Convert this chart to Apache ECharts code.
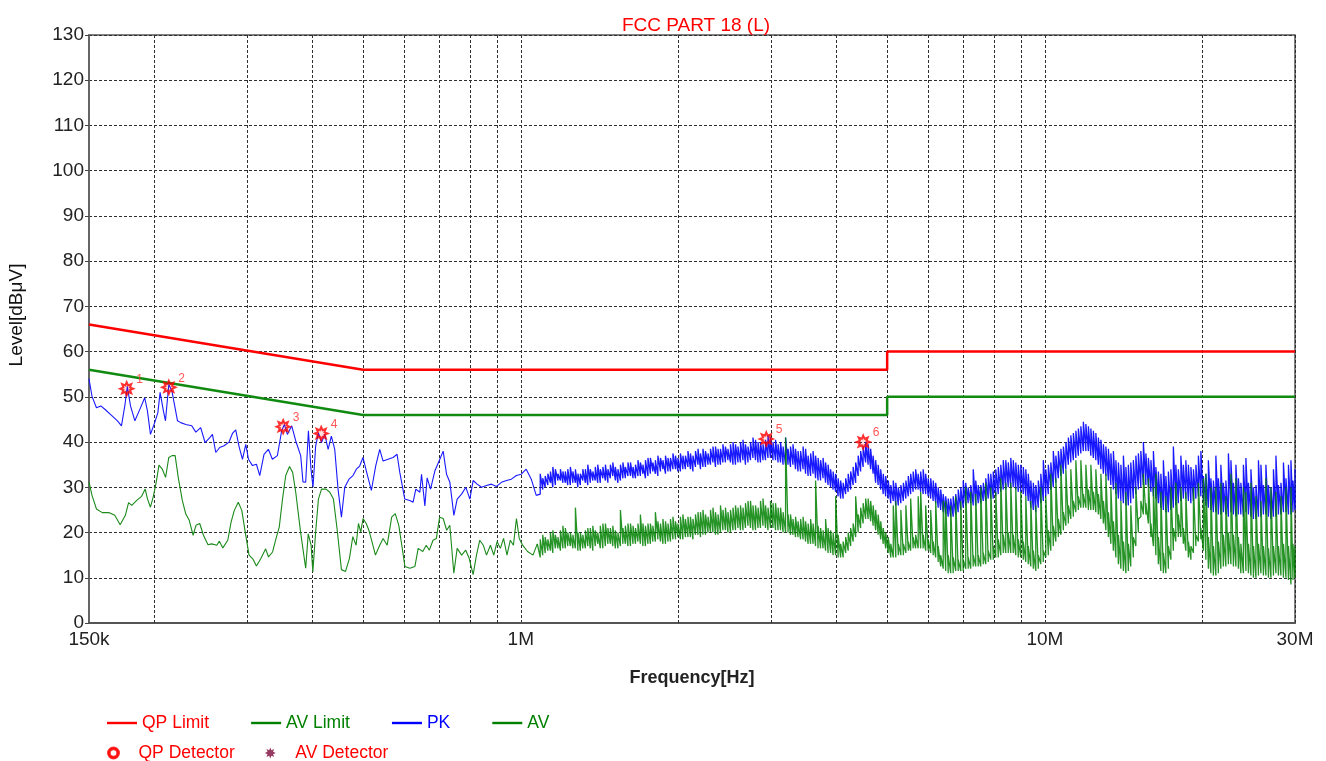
<!DOCTYPE html>
<html><head><meta charset="utf-8">
<script src="https://cdn.jsdelivr.net/npm/echarts@6/dist/echarts.min.js"></script>
<style>html,body{margin:0;padding:0;background:#fff}#c{width:1326px;height:761px}</style>
</head><body><div id="c"></div>
<script>
// ---------- data (frequencies in kHz, levels in dBµV) ----------
const LIMIT_FREQ_KHZ = [150, 500, 5000, 5000, 30000];
const QP_LIMIT = [66, 56, 56, 60, 60];
const AV_LIMIT = [56, 46, 46, 50, 50];

// low band sweep (150 kHz - ~1.07 MHz), single trace points
const PK_FREQ_LOW = [150,152,155,158,161,166,170,173,175.7,177.5,180,183.5,187,191.6,193.9,196.5,200.2,203,205,208,209.9,213,216,218,221.3,224.5,229.5,235.6,239.8,245,249.8,255,258,261.8,266.4,271.5,277.5,281.7,285.8,290,294.4,298.7,302.3,307.6,313,317.6,323.6,329.9,335.7,343.2,349.7,353.9,358.6,365.5,371.9,380.2,384,388.6,393.3,397.8,401.3,406,411,416.6,422.6,428.9,435,441.5,448,454.7,461.4,470,478.4,485.5,492.6,499.9,507.3,518.6,528.5,538,546,558,570.5,580.6,587.6,600.6,614,623,630.5,641.7,646.5,656,662.6,672.6,685.4,700.6,710.9,721.6,732.2,745.2,756,770.8,785.5,799.5,811,825.4,841.5,860,879,898.6,918.4,939,959.3,980.7,1002,1024,1047,1070];
const PK_LOW = [54.0,50.1,47.6,48.0,47.2,45.8,44.7,43.6,48.3,52.3,48.0,44.7,46.9,49.8,46.9,41.7,44.3,46.5,51.0,46.9,44.7,52.8,51.2,48.7,44.7,44.3,43.9,43.6,42.2,43.2,39.9,41.0,41.7,37.7,38.8,39.2,40.0,41.9,42.7,39.0,36.2,39.5,36.2,34.8,35.1,32.6,37.3,38.4,36.2,37.0,42.5,43.9,41.7,43.6,40.3,37.0,31.2,31.1,42.5,34.0,30.0,39.1,42.0,39.9,41.7,38.4,41.3,38.4,29.6,23.4,30.0,31.8,32.6,34.0,34.7,36.6,33.6,29.3,34.7,38.4,35.8,36.2,36.6,37.3,33.3,27.4,27.1,26.7,29.6,28.9,32.9,25.9,32.1,29.6,33.6,36.2,38.0,32.9,31.1,23.8,27.4,28.5,30.0,27.4,31.5,30.7,30.0,30.4,30.7,30.2,31.1,31.5,31.8,32.6,32.9,34.0,31.8,28.2];

const AV_FREQ_LOW = [150,152,155,159,164,168,172,176,178.5,181,185,189,192,194,196.5,199,201.5,204,207,210,213,216,219,222,226,229.5,233,237,240,244,248,253,257,263,266,270,276,280,284,289,293.5,298,303,308,313,319,326,330,336,341,346,351,356,362,367,372,380,388.6,393,398,401,406,411,416.6,425,432,439,446,454.7,463,471,478,485,490,495,500,507,513,520,528,538,546,556,567,576,585,594,601,614,628,637,650,660,669,680,690,700,711,722,732,745,756,771,785,797,811,823,835,848,860,875,888,901,914,927,941,955,968,981,993,1008,1030,1055,1075];
const AV_LOW = [31.2,28.2,25.2,24.4,24.4,23.8,21.7,23.8,26.6,26.0,27.1,28.0,29.6,27.4,25.6,28.0,31.1,34.9,34.0,32.2,36.6,37.0,37.0,32.2,27.1,24.1,22.7,19.4,21.6,22.0,19.4,17.3,17.5,17.2,18.1,16.6,18.3,22.3,24.9,26.7,24.9,20.1,15.0,14.2,12.6,14.2,16.4,14.6,15.7,18.6,21.2,27.4,32.6,34.6,33.3,28.9,20.1,12.1,19.7,17.2,11.3,20.1,27.4,29.6,29.6,28.9,27.4,20.9,11.8,11.4,14.3,19.1,17.2,22.0,20.1,23.1,22.0,20.5,18.0,15.0,17.2,18.7,17.2,23.4,24.2,21.6,16.5,12.5,12.1,12.5,16.5,15.8,17.2,16.1,18.3,18.7,23.4,23.1,20.5,21.6,11.0,16.5,15.0,16.1,14.3,10.7,15.0,18.3,17.2,15.0,17.2,15.0,18.0,16.5,18.7,15.0,18.3,17.2,23.1,18.7,17.2,15.8,15.0,17.5];

// dense sweep (1.09 MHz - 30 MHz): min / max envelope per frequency bin
const DENSE_FREQ = [
1089,1101,1113,1126,1139,1151,1164,1177,1190,1203,1216,1229,1243,1257,1271,1285,1299,1313,1328,1342,
1357,1372,1387,1402,1418,1434,1450,1466,1482,1498,1515,1532,1549,1566,1583,1601,1619,1637,1655,1673,
1691,1710,1729,1748,1767,1786,1806,1826,1847,1867,1888,1909,1930,1951,1973,1994,2016,2038,2061,2084,
2107,2130,2154,2178,2202,2226,2251,2276,2301,2326,2352,2378,2404,2430,2457,2484,2512,2540,2568,2596,
2625,2654,2683,2713,2743,2773,2804,2835,2866,2898,2930,2962,2995,3028,3062,3096,3130,3165,3200,3235,
3270,3306,3343,3380,3418,3456,3494,3533,3572,3611,3651,3691,3732,3773,3815,3857,3900,3943,3987,4031,
4076,4121,4167,4213,4259,4306,4354,4402,4450,4499,4549,4599,4650,4701,4753,4806,4860,4914,4968,5024,
5080,5136,5193,5251,5310,5369,5428,5486,5544,5605,5667,5730,5793,5857,5922,5988,6054,6121,6188,6257,
6326,6396,6466,6538,6610,6683,6757,6832,6908,6984,7061,7139,7218,7298,7378,7460,7543,7627,7711,7796,
7882,7969,8057,8146,8236,8327,8419,8512,8606,8701,8797,8895,8993,9093,9193,9295,9398,9502,9606,9713,
9820,9929,10038,10149,10261,10375,10490,10607,10725,10844,10963,11084,11205,11330,11455,11582,11709,11839,11970,12103,
12236,12371,12507,12646,12786,12928,13070,13215,13360,13508,13657,13809,13961,14116,14271,14425,14580,14745,14910,15075,
15240,15410,15580,15755,15930,16105,16280,16460,16640,16825,17010,17200,17390,17580,17770,17970,18170,18370,18570,18780,
18990,19200,19410,19625,19840,20060,20280,20505,20730,20960,21190,21425,21660,21900,22140,22390,22640,22890,23140,23395,
23650,23915,24180,24450,24720,24995,25270,25550,25830,26115,26400,26695,26990,27290,27590,27895,28200,28515,28830,29150,
29470,29735,30000];
const PK_MAX = [
33,32,32.5,33,33.5,34.5,34,33,34,33.5,33.5,34,34.5,33.5,34,33,33,34,34,35,
34,33.5,34.5,35,34,34.5,35,34,35,35.5,34.5,34,35,35.5,34.5,35.5,35.5,34.5,35,36,
35.5,35,36,36.5,36.5,35.5,36,37,36.5,36,37,36.5,36.5,37.5,37,36.5,37.5,37,37,38,
37.5,37,38,38.5,37.5,38.5,38,37.5,38.5,39,39,38.5,38.5,39.5,39,38.5,39.5,40,39.5,39,
40,40.5,39.5,39,40,41,40.5,40,40,39.5,40.5,41.5,41,40,40.5,39.5,40,39,41,38.5,
39,39.5,38.5,38,38,39,38.5,37,37.5,38,37,36.5,36,36.5,35.5,35,34,33.5,33,32,
31.5,31,32,33,33.5,34.5,35.5,37,38,39,40,39.5,38.5,37,36,35,34,33,32.5,31.5,
30.5,31.5,31,30,30.5,31,31.5,32.5,33,33.5,34,33,33.5,34,33,32,32,31.5,31,30,
29.5,28.5,28,27.5,27.5,28,28.5,29.5,30,31.5,31,30,30.5,34,31.5,30.5,30.5,31,32,33,
33,33.5,34,34.5,35,36,36,35.5,36.5,36,35.5,35,35,34.5,34,33,31.5,31,30.5,31.5,
33,36,34,35,35.5,38,37,38,38.5,39,40,41,41.5,42,42.5,43,43.5,44.5,44,43.5,
43,42.5,42,41,40.5,39.5,39,38.5,37.5,38,36,35.5,35,37,34.5,35,35.5,36,37,37.5,
38,40,37.5,36.5,36,38,34.5,33.5,33,36,32.5,33.5,34,39,35,34,37,35,36,35,
34.5,34,35,37,38,32.5,33,36,32,31.5,37,32,35,31,31.5,37.5,36,31,35,32,
31,35,36.5,31,34,30,30.5,36,35,30.5,35,30.5,30,34,37,30.5,31,35.5,32,35,
36,31.5,34];
const PK_MIN = [
28.5,29.5,30,30.5,31,30,30.5,31.5,31.5,31,31,30.5,30.5,31,31,30,30.5,31.5,31,30.5,
31,31.5,31.5,31,31,32,31.5,31,32,32.5,31.5,31,31.5,32,32,32.5,32.5,32,32,32.5,
32.5,33,32,32.5,33,33.5,33,32.5,33.5,34,33,33.5,33.5,34,34,33.5,33.5,34,34,34.5,
34,33.5,34.5,35,34,34.5,34.5,35,35,35.5,34.5,35,35,35.5,35.5,36,35.5,35,35,35.5,
35.5,36,35,35.5,36,36.5,36,35.5,35.5,36,36,36.5,36.5,36,36,35.5,35.5,35,35,35,
34.5,35,34,33.5,33.5,34,33,32.5,32.5,33,32,31.5,31.5,32,31,30.5,30,29.5,29,28,
27.5,27.5,28.5,29,29.5,30.5,31,32.5,33.5,34.5,35.5,35,34,33,31,30.5,29.5,28.5,28,27.5,
26.5,27,26,26,26.5,27,27.5,28,28.5,29,29.5,29.5,29,28.5,28.5,28,27.5,27,26.5,25.5,
25,24.5,24,23.5,23.5,23.5,24,24.5,25,25.5,26,26.5,26.5,26,26,26.5,26.5,27,27,27.5,
27.5,27.5,28,28.5,29,29.5,29.5,30,30,30,29.5,29,29,28.5,28,27,25.5,25,24.5,25.5,
26.5,27,28,28.5,29.5,30,31,32,32.5,33,34,35,35.5,36,36.5,37,37.5,38,38,38,
37,36.5,36,35,34,33,32.5,31.5,30.5,29.5,28.5,27.5,27,26.5,26,26,26.5,27.5,28.5,29.5,
30,30.5,30.5,30,29,28,27.5,26.5,25.5,25,24.5,24.5,25,25.5,26,26.5,27,27.5,27.5,27,
26.5,27,27.5,28,28,27,26,25.5,25,24.5,24.5,24,24,24.5,24,23.5,24.5,24,23.5,24,
24,23.5,24.5,24,23.5,23,23,23.5,23.5,24,24,23.5,23,23.5,23.5,24,24,24.5,24.5,24,
24,24.5,25];
const AV_MAX = [
18.5,19.5,19,18.5,20,20.5,19.5,19,20.5,21.5,21,20,20,19.5,25.5,20,20,19.5,20.5,21,
21,21.5,20.5,20,21.5,22,22,21,21,21.5,20.5,20,25,21,21.5,22,22,21.5,21,22,
24,22,21.5,22,22,21.5,24.5,22.5,22,23,22.5,22,23,23.5,22.5,22,23.5,24,23,23.5,
23.5,23,24,24.5,24.5,25,24,23.5,25,25.5,24.5,24,26,25,25.5,24.5,25,25.5,26,25.5,
26,25.5,26.5,27,27,26,26,25.5,27,27.5,26,25.5,27,26.5,26.5,25.5,25.5,24.5,41,24,
24,23,23.5,22.5,23,23.5,22.5,22,23,22,31.5,21.5,21,20.5,23,21,20.5,20,28,19.5,
17.5,18,19,20,21,22,28,24,25.5,26.5,27.5,27.5,27,26,25,24,22.5,21,20,19,
17.5,26,27,17.5,25,17.5,26,18,27.5,19,19.5,28,29,19.5,26,18.5,25,18,27,17,
15,27,27,15,26,14.5,28,14,27,14,30,14.5,29,15,28.5,15,30,15.5,31,16,
30,17,29,18.5,32,19.5,31,20,31,19.5,30,18.5,29,18,28,17,27,16,26,15,
30,16,28,20.5,33,21.5,32,23,35,24.5,34,26,34,27,36,28,36,28.5,35,29.5,
35,29,34,28.5,33,27,33,24.5,30,22.5,31,19.5,27,18,29,17.5,26,19,30,23,
27,33,26.5,32,22,30,33,19,29,15.5,28,17,30,21,31,24,30,21,29,18,
17,30,19.5,31,21,32,33,19,30,17,30,18,31,19.5,28,20,33,19.5,32,19,
17.5,30,29,17.5,31,17,28,17.5,27,17,32,16.5,30,17,29,17,28,17.5,30,17,
30,17.5,17];
const AV_MIN = [
14.5,15,15.5,16,16,15.5,16.5,16.5,16,16.5,16.5,17,17,16.5,16.5,16,16,16.5,16.5,17,
16.5,16,17,17.5,16.5,16.5,17,17.5,17.5,17,16.5,16.5,17,17.5,17.5,17,17,17.5,17.5,18,
17.5,17,17,17.5,17.5,18,18,18.5,18,17.5,17.5,18,18,18.5,18.5,19,18.5,18.5,19,19,
19,18.5,19.5,19.5,19,19.5,19.5,20,20,20,19.5,19.5,20,20.5,20.5,20,20,20.5,20.5,21,
20.5,20.5,21,21.5,21,20.5,20.5,21,21,21.5,21,20.5,21,21,20.5,20.5,20.5,20,20,20,
19.5,19.5,19,19,18.5,18.5,18,17.5,17.5,17.5,17,16.5,16.5,16.5,16,15.5,15.5,15,15,14.5,
14.5,14.5,15.5,16,17,18,19,20,21,22,23,23,22.5,21.5,20.5,19.5,18.5,17.5,16.5,15.5,
14.5,14.5,14.5,15,15,15,15.5,16,16,16.5,16.5,16.5,16.5,16.5,16,16,15.5,15,14.5,13.5,
12.5,12,11.5,11,11,11,11.5,11.5,11.5,11.5,12,12,12,12.5,12.5,12.5,12.5,13,13,13.5,
14,14,14.5,14.5,15,15.5,15.5,15.5,15.5,15.5,15,14.5,14.5,14,13.5,13,12.5,12,11.5,12,
13,13.5,14.5,15,16,17,18,19,19.5,20.5,21.5,22,23,23.5,24.5,25,25.5,25.5,25.5,25,
25,25,24.5,24,23,22,20.5,19,17.5,16,14.5,13,12,11.5,11,11.5,12.5,14.5,17,20,
23.5,24,24,22,19,17,15,13,11.5,11,11,12,14,16,18,19,19,17.5,16,14.5,
14,15.5,17,18,18.5,16,14,12,11,10.5,10.5,11,12,12.5,12.5,13,13,12.5,12.5,12,
11,11,11.5,11,10.5,10,10,10.5,11,10.5,10.5,10,10,10.5,11,10.5,10.5,10,10,9.5,
8.5,9.5,10];

// QP detector readings
const QP_DET_FREQ = [177, 213, 352, 416, 2940, 4500];
const QP_DET_LEVEL = [51.8, 52.1, 43.4, 41.9, 40.7, 40.0];
const QP_DET_LABEL = ['1','2','3','4','5','6'];

// extra vertical grid frequencies (kHz)
const GRID_FREQ = [200,300,400,500,600,700,800,900,2000,3000,4000,5000,6000,7000,8000,9000,20000];

// ---------- helpers ----------
const K = 1000;
function pairs(fk, vals){ return fk.map((f,i)=>[f*K, vals[i]]); }
function envelope(fk, mins, maxs){
  const out = [];
  const n = Math.min(fk.length, mins.length, maxs.length);
  for (let i = 0; i < n; i++) { out.push([fk[i]*K, mins[i]]); out.push([fk[i]*K, maxs[i]]); }
  return out;
}
const pkLowData = pairs(PK_FREQ_LOW, PK_LOW);
const avLowData = pairs(AV_FREQ_LOW, AV_LOW);
const pkDenseData = [pkLowData[pkLowData.length-1]].concat(envelope(DENSE_FREQ, PK_MIN, PK_MAX));
const avDenseData = [avLowData[avLowData.length-1]].concat(envelope(DENSE_FREQ, AV_MIN, AV_MAX));

const FONT = "'Liberation Sans', Arial, sans-serif";
const LINE_ICON = 'path://M0,0 L30,0 L30,2.4 L0,2.4 Z';
const RING = 'path://M5,0 A5,5 0 1,1 4.99,0 Z M5,1.6 A3.4,3.4 0 1,0 5.01,1.6 Z';
const STAR = 'path://M10 0L12.1 4.9L17.07 2.93L15.08 7.9L20 10L15.08 12.1L17.07 17.07L12.1 15.08L10 20L7.9 15.08L2.93 17.07L4.92 12.1L0 10L4.92 7.9L2.93 2.93L7.9 4.92Z';
const GRID_LINE = {color:'#2e2e2e', type:[3,2], width:1};

function fmtFreq(v){
  if (v >= 999999) return Math.round(v/1e6) + 'M';
  return Math.round(v/1e3) + 'k';
}

const chart = echarts.init(document.getElementById('c'), null, {renderer:'canvas'});
chart.setOption({
  animation: false,
  backgroundColor: '#fff',
  textStyle: {fontFamily: FONT},
  title: {
    text: 'FCC PART 18 (L)', left: 691, top: 11, textAlign: 'center',
    textStyle: {color:'#ff0000', fontSize:19, fontWeight:'normal', fontFamily: FONT}
  },
  grid: {left: 89, right: 31, top: 35, bottom: 138, containLabel: false, outerBoundsMode: 'none',
         show: true, borderColor: '#555', borderWidth: 1.5},
  legend: [
    {left: 102, top: 709, orient:'horizontal', itemWidth: 30, itemHeight: 14, itemGap: 42, selectedMode: false,
     textStyle: {fontSize: 17.5, fontFamily: FONT},
     data: [
       {name:'QP Limit', icon: LINE_ICON, textStyle:{color:'#ff0000'}},
       {name:'AV Limit', icon: LINE_ICON, textStyle:{color:'#008000'}},
       {name:'PK', icon: LINE_ICON, textStyle:{color:'#0000ff'}},
       {name:'AV', icon: LINE_ICON, textStyle:{color:'#008000'}}
     ]},
    {left: 102, top: 739, orient:'horizontal', itemWidth: 40, itemHeight: 11, itemGap: 30, selectedMode: false,
     textStyle: {fontSize: 17.5, fontFamily: FONT},
     data: [
       {name:'QP Detector', icon: RING, itemStyle:{color:'#ff0000'}, textStyle:{color:'#ff0000'}},
       {name:'AV Detector', icon: STAR, itemStyle:{color:'#7b0a3b'}, textStyle:{color:'#ff0000'}}
     ]}
  ],
  xAxis: {
    type: 'log', logBase: 10, min: 150000, max: 30000000,
    name: 'Frequency[Hz]', nameLocation: 'middle', nameGap: 46,
    nameTextStyle: {fontSize: 18, fontWeight: 'bold', color: '#222', fontFamily: FONT},
    axisLine: {show: true, lineStyle: {color: '#555', width: 2}},
    axisTick: {show: false},
    axisLabel: {formatter: fmtFreq, fontSize: 19, color: '#222', margin: 7, showMinLabel: true, showMaxLabel: true, fontFamily: FONT},
    splitLine: {show: true, lineStyle: GRID_LINE}
  },
  yAxis: {
    type: 'value', min: 0, max: 130, interval: 10,
    name: 'Level[dBμV]', nameLocation: 'middle', nameGap: 63, nameRotate: 90,
    nameTextStyle: {fontSize: 19, color: '#111', fontFamily: FONT, padding: [0,0,0,28]},
    axisLine: {show: true, lineStyle: {color: '#666', width: 2}},
    axisTick: {show: true, length: 4, lineStyle: {color: '#444'}},
    axisLabel: {fontSize: 19, color: '#222', margin: 5, fontFamily: FONT},
    splitLine: {show: true, lineStyle: GRID_LINE}
  },
  series: [
    {name: 'QP Limit', type: 'line', data: pairs(LIMIT_FREQ_KHZ, QP_LIMIT), symbol: 'none', color: '#ff0000',
     lineStyle: {color: '#ff0000', width: 2.5}, z: 3,
     markLine: {silent: true, symbol: ['none','none'], label: {show: false}, z: 1, animation: false,
       lineStyle: GRID_LINE, emphasis: {disabled: true},
       data: GRID_FREQ.map(f => ({xAxis: f*K}))}},
    {name: 'AV Limit', type: 'line', data: pairs(LIMIT_FREQ_KHZ, AV_LIMIT), symbol: 'none', color: '#008000',
     lineStyle: {color: '#108a10', width: 2.5}, z: 3},
    {name: 'PK', type: 'line', data: pkLowData, symbol: 'none', color: '#0000ff',
     lineStyle: {color: '#1a1aff', width: 1.1}, z: 2},
    {name: 'PK', type: 'line', data: pkDenseData, symbol: 'none', color: '#0000ff',
     lineStyle: {color: '#0000ff', width: 1.3, opacity: 0.9}, z: 2},
    {name: 'AV', type: 'line', data: avLowData, symbol: 'none', color: '#008000',
     lineStyle: {color: '#1b8a1b', width: 1.1}, z: 2},
    {name: 'AV', type: 'line', data: avDenseData, symbol: 'none', color: '#008000',
     lineStyle: {color: '#008000', width: 1.3, opacity: 0.85}, z: 2},
    {name: 'QP Detector', type: 'scatter', data: pairs(QP_DET_FREQ, QP_DET_LEVEL), symbol: STAR, symbolSize: 13,
     color: '#ff0000', itemStyle: {color: 'rgba(255,0,0,0.15)', borderColor: '#ff0000', borderWidth: 2}, z: 10,
     label: {show: true, position: 'right', offset: [-3, -9], color: '#ff2a2a', fontSize: 12,
       formatter: p => QP_DET_LABEL[p.dataIndex]}},
    {name: 'AV Detector', type: 'scatter', data: [], symbol: STAR, color: '#7b0a3b'}
  ]
});
</script>
</body></html>
